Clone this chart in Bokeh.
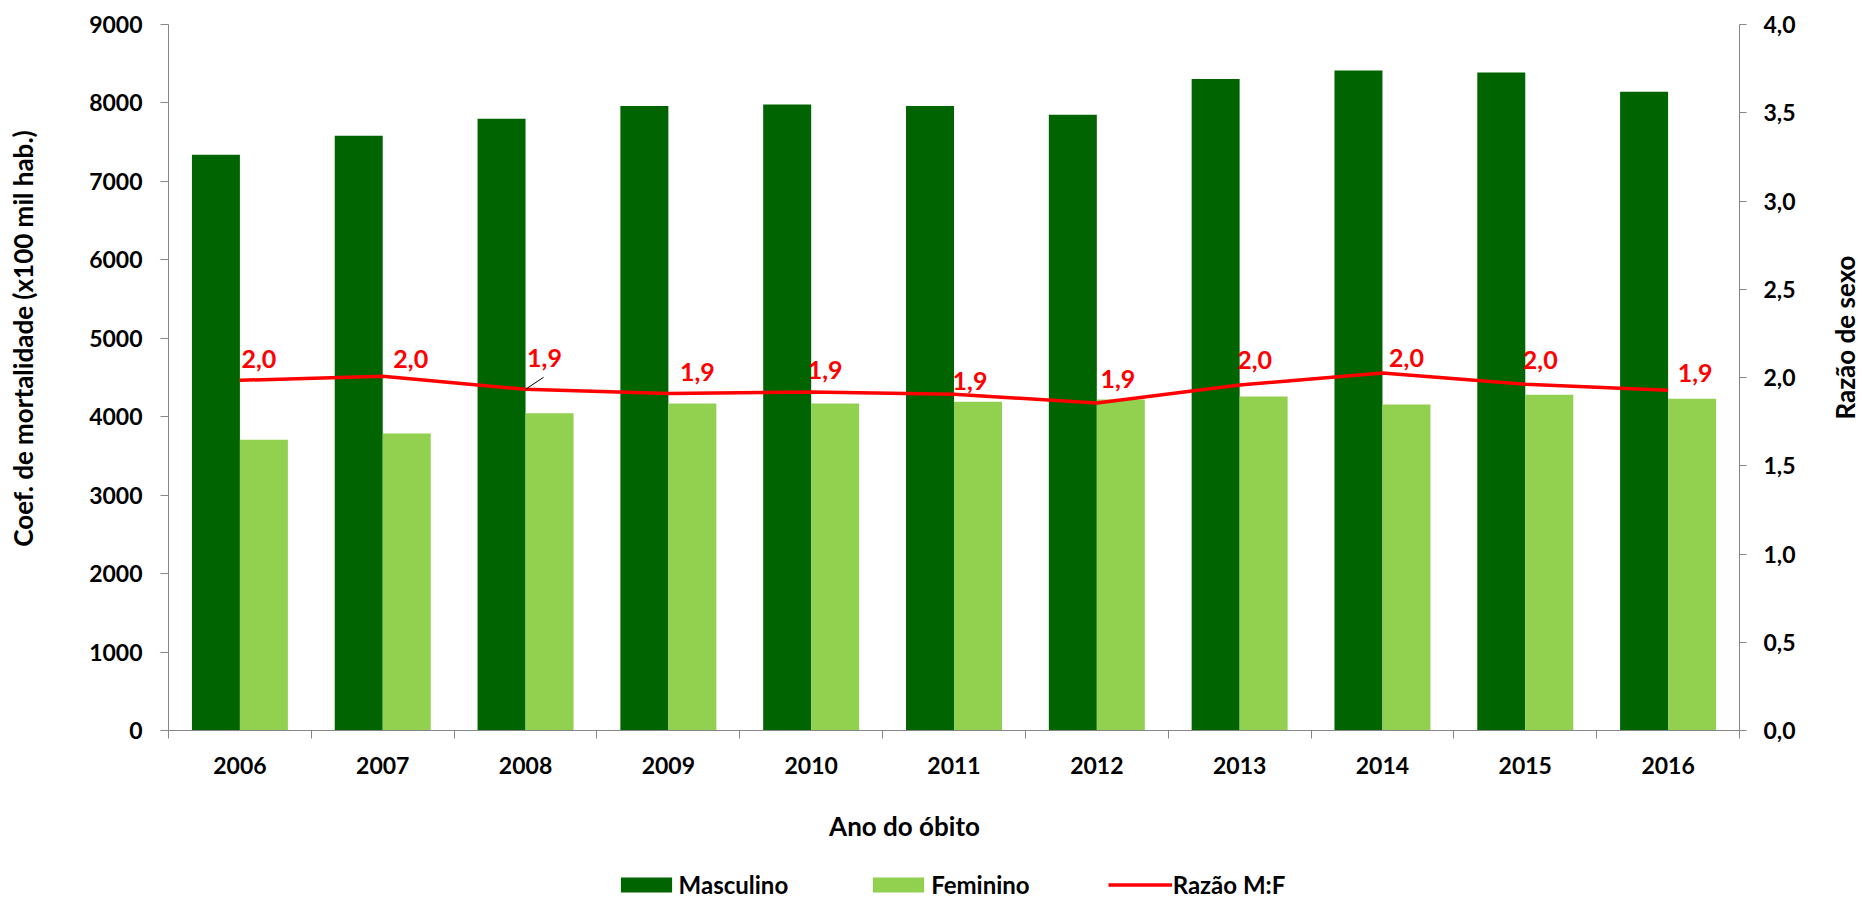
import math
import numpy as np
from bokeh.plotting import figure
from bokeh.models import (ColumnDataSource, Range1d, LinearAxis, FixedTicker,
                          SingleIntervalTicker, CustomJSTickFormatter, Legend,
                          LegendItem, Label)
from bokeh.transform import dodge
from bokeh.core.properties import value
from bokeh.embed import file_html
from bokeh.resources import INLINE

# ---------------- data ----------------
years = ["2006", "2007", "2008", "2009", "2010", "2011",
         "2012", "2013", "2014", "2015", "2016"]
masculino = [7340, 7583, 7800, 7962, 7979, 7962, 7850, 8304, 8414, 8389, 8143]
feminino = [3706, 3787, 4043, 4170, 4170, 4191, 4220, 4258, 4156, 4279, 4228]
razao = [1.984, 2.007, 1.933, 1.910, 1.918, 1.905, 1.855, 1.957, 2.026, 1.962, 1.928]
y_left_max = 9000
y_right_max = 4.0

# label placement (pixels, relative to each point) - style only
label_dx = [19, 28, 19, 29, 14, 16, 21, 15, 24, 15, 27]
label_dy = [-21, -17, -31, -21, -22, -13, -24, -25, -15, -24, -17]

# ---------------- layout (pixels) ----------------
W, H = 1862, 899
PX_L, PX_R, PX_T, PX_B = 168, 1739, 24, 730   # plot area inside the canvas

FONT = "Lato"
AXIS_GRAY = "#868686"
DARK = "#006400"
LIGHT = "#92D050"

n = len(years)
ux = (PX_R - PX_L) / n
uy = (PX_B - PX_T) / y_left_max
uy2 = (PX_B - PX_T) / y_right_max

xpos = np.arange(n) + 0.5
labels = [f"{r:.1f}".replace(".", ",") for r in razao]

src = ColumnDataSource(dict(x=xpos, year=years, m=masculino, f=feminino, r=razao,
                            lbl=labels, dx=label_dx, dy=label_dy))

p = figure(width=W, height=H, output_backend="svg", toolbar_location=None,
           x_range=Range1d(-PX_L / ux, n + (W - PX_R) / ux),
           y_range=Range1d(-(H - PX_B) / uy, y_left_max + PX_T / uy),
           min_border=0)
p.extra_y_ranges = {"right": Range1d(-(H - PX_B) / uy2, y_right_max + PX_T / uy2)}
p.xgrid.visible = False
p.ygrid.visible = False
p.outline_line_color = None
p.background_fill_color = "white"
p.border_fill_color = "white"

bw = 0.336
rm = p.vbar(x=dodge("x", -bw / 2), top="m", width=bw, source=src,
            fill_color=DARK, line_color=None)
rf = p.vbar(x=dodge("x", bw / 2), top="f", width=bw, source=src,
            fill_color=LIGHT, line_color=None)
rl = p.line("x", "r", source=src, y_range_name="right", line_color="#FF0000",
            line_width=3.5)

# leader line for the 2008 label
i8 = 2
p.segment(x0=[xpos[i8]], y0=[razao[i8]], x1=[xpos[i8] + 18 / ux],
          y1=[razao[i8] + 12 / uy2], y_range_name="right",
          line_color="black", line_width=1)

p.text("x", "r", text="lbl", x_offset="dx", y_offset="dy", source=src,
       y_range_name="right", text_color="#FF0000", text_font=value(FONT),
       text_font_style="bold", text_font_size="25px", text_align="center",
       text_baseline="middle")

# x axis (drawn at y = 0)
xa = p.xaxis[0]
xa.fixed_location = 0
xa.bounds = (0, n)
xa.ticker = FixedTicker(ticks=list(xpos), minor_ticks=list(range(n + 1)))
xa.formatter = CustomJSTickFormatter(args=dict(labels=years),
                                     code="return labels[Math.round(tick - 0.5)];")
xa.major_tick_out = 0
xa.major_tick_in = 0
xa.minor_tick_out = 8
xa.minor_tick_in = 0
xa.minor_tick_line_color = AXIS_GRAY
xa.major_label_standoff = 18

# left axis (drawn at x = 0)
ya = p.yaxis[0]
ya.fixed_location = 0
ya.bounds = (0, y_left_max)
ya.ticker = SingleIntervalTicker(interval=1000, num_minor_ticks=0)
ya.major_tick_out = 8
ya.major_tick_in = 0
ya.minor_tick_line_color = None
ya.major_label_standoff = 18

# right axis (drawn at x = n)
ra = LinearAxis(y_range_name="right", fixed_location=n, bounds=(0, y_right_max),
                ticker=SingleIntervalTicker(interval=0.5, num_minor_ticks=0),
                formatter=CustomJSTickFormatter(code="return tick.toFixed(1).replace('.', ',');"))
ra.major_tick_out = 7
ra.major_tick_in = 0
ra.minor_tick_line_color = None
ra.major_label_standoff = 17
p.add_layout(ra, "right")

for ax in (xa, ya, ra):
    ax.axis_line_color = AXIS_GRAY
    ax.major_tick_line_color = AXIS_GRAY
    ax.major_label_text_font = FONT
    ax.major_label_text_font_style = "bold"
    ax.major_label_text_font_size = "23px"
    ax.major_label_text_color = "black"


# axis titles
def title(text, cx, cy, angle=0.0):
    return Label(x=cx, y=H - cy, x_units="screen", y_units="screen", text=text,
                 angle=angle, text_align="center", text_baseline="middle",
                 text_font=FONT, text_font_style="bold", text_font_size="26px",
                 text_color="black")


p.add_layout(title("Coef. de mortalidade (x100 mil hab.)", 22, 338, math.pi / 2))
p.add_layout(title("Razão de sexo", 1844, 337, math.pi / 2))
p.add_layout(title("Ano do óbito", 904, 825))

legend = Legend(items=[LegendItem(label="Masculino", renderers=[rm]),
                       LegendItem(label="Feminino", renderers=[rf]),
                       LegendItem(label="Razão M:F", renderers=[rl])],
                orientation="horizontal", location=(613.6, 0),
                glyph_width=64, glyph_height=19, label_standoff=1, spacing=78,
                padding=0, margin=0, border_line_color=None,
                background_fill_alpha=0, label_text_font=FONT,
                label_text_font_style="bold", label_text_font_size="24px",
                label_text_color="black", label_height=22)
p.add_layout(legend)

open("out.html", "w").write(file_html(p, INLINE))
